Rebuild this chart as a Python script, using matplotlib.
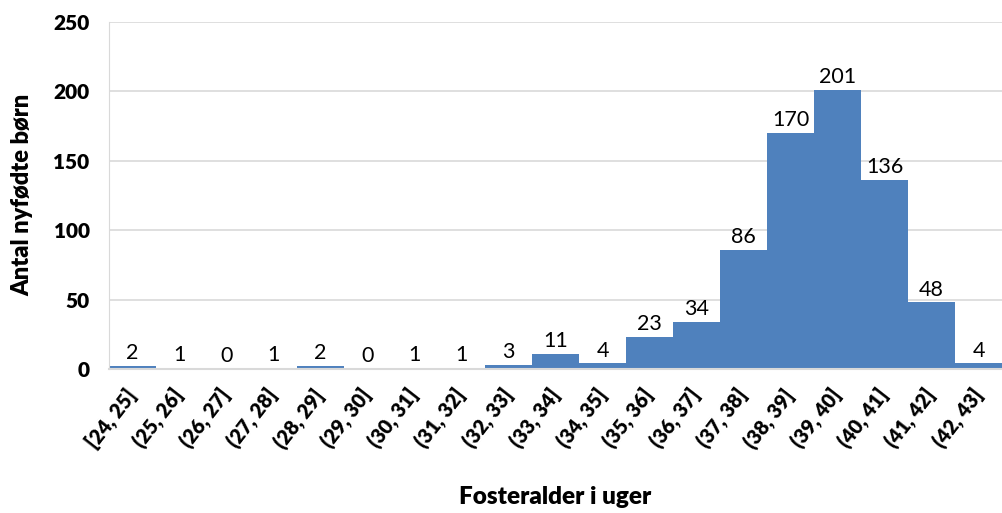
import matplotlib.pyplot as plt
import matplotlib.transforms as mtransforms

# fosteralder i uger, antal nyfødte børn
bins = ['[24, 25]', '(25, 26]', '(26, 27]', '(27, 28]', '(28, 29]', '(29, 30]',
        '(30, 31]', '(31, 32]', '(32, 33]', '(33, 34]', '(34, 35]', '(35, 36]',
        '(36, 37]', '(37, 38]', '(38, 39]', '(39, 40]', '(40, 41]', '(41, 42]',
        '(42, 43]']
counts = [2, 1, 0, 1, 2, 0, 1, 1, 3, 11, 4, 23, 34, 86, 170, 201, 136, 48, 4]

plt.rcParams['font.family'] = ['Lato', 'DejaVu Sans']
bw = 'heavy'

fig = plt.figure(figsize=(10.02, 5.13), dpi=100)
ax = fig.add_axes([0.1088, 0.2807, 0.8912, 0.6763])

x = list(range(len(counts)))
ax.bar(x, counts, width=1.0, color='#4F81BD', zorder=2)
for i, c in zip(x, counts):
    ax.annotate(str(c), (i, c), xytext=(0, 2), textcoords='offset points',
                ha='center', va='bottom', fontsize=15.5, color='black')

ax.set_xlim(-0.5, len(counts) - 0.5)
ax.set_ylim(0, 250)
ax.set_yticks([0, 50, 100, 150, 200, 250])
ax.grid(axis='y', color='#D9D9D9', linewidth=1.2, zorder=0)
ax.set_xticks(x)
ax.set_xticklabels(bins, rotation=52, ha='right', va='center', rotation_mode='anchor',
                   fontsize=14.5, fontweight=bw)
shift = mtransforms.ScaledTranslation(15 / 100, 0, fig.dpi_scale_trans)
for lab in ax.get_xticklabels():
    lab.set_transform(lab.get_transform() + shift)
for lab in ax.get_yticklabels():
    lab.set_fontweight(bw)
ax.tick_params(axis='y', labelsize=15, length=0, pad=14)
ax.tick_params(axis='x', length=0, pad=16)

for s in ['top', 'right']:
    ax.spines[s].set_visible(False)
ax.spines['left'].set_color('#D9D9D9')
ax.spines['bottom'].set_color('#D9D9D9')
ax.spines['bottom'].set_linewidth(1.5)

fig.text(0.022, 0.62, 'Antal nyfødte børn', rotation=90, ha='center', va='center',
         fontsize=17, fontweight=bw)
fig.text(0.554, 0.031, 'Fosteralder i uger', ha='center', va='center',
         fontsize=17.5, fontweight=bw)

fig.savefig('out.png', dpi=100)
